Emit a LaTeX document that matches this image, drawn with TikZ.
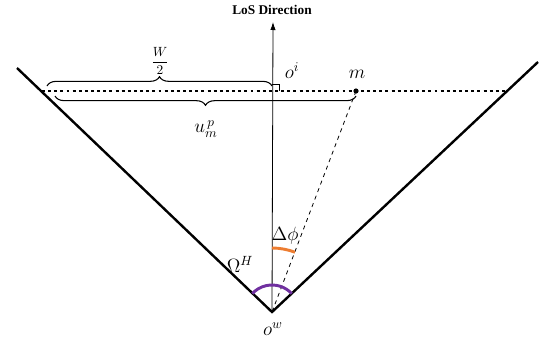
\documentclass[tikz,border=0pt]{standalone}
\usepackage{fontspec}
\newfontfamily\losfont{Liberation Serif}
\usetikzlibrary{arrows.meta,decorations.pathreplacing}
\definecolor{arcpurple}{HTML}{7030A0}
\definecolor{arcorange}{HTML}{ED7D31}
\begin{document}
\begin{tikzpicture}[x=0.75pt,y=0.75pt,
  fov/.style={line width=1.8pt},
  brc/.style={decorate,decoration={brace,amplitude=7pt},thick},
  lbl/.style={font=\Large}]
  \useasboundingbox (0,0) rectangle (548,344);
  \coordinate (ow) at (272,32);
  \coordinate (lt) at (17,276);
  \coordinate (rt) at (538,282);
  \coordinate (oi) at (272,253);
  \coordinate (m) at (356,253);
  \coordinate (pl) at (42,253);
  \coordinate (pr) at (507,253);
  \coordinate (tip) at (273,322);
  \draw[fov] (lt) -- (ow) -- (rt);
  \draw[semithick,-{Latex[length=6pt,width=4pt]}] (ow) -- (tip);
  \draw[line width=2.2pt,dash pattern=on 2.2pt off 2.4pt] (pl) -- (pr);
  \draw[semithick] ([shift={(0,7)}]oi) -- ++(7,0) -- ++(0,-7);
  \draw[dashed,semithick] (m) -- (ow);
  \fill (m) circle (2.6);
  \coordinate (ba) at (47,258);
  \coordinate (bb) at (272,258);
  \coordinate (bc) at (356,248);
  \coordinate (bd) at (55,248);
  \draw[brc] (ba) -- (bb);
  \draw[brc] (bc) -- (bd);
  \draw[arcpurple,line width=2.2pt]
    ([shift={(43:27)}]ow) arc[start angle=43,end angle=137,radius=27];
  \draw[arcorange,line width=2.2pt]
    ([shift={(69:64)}]ow) arc[start angle=69,end angle=90,radius=64];
  \node (los) at (272,334) {\losfont\bfseries LoS Direction};
  \node (half) at (160,283) {$\displaystyle\frac{W}{2}$};
  \node[lbl] (ump) at (206,215) {$u_{m}^{\,p}$};
  \node[lbl] (oilbl) at (292,273) {$o^i$};
  \node[lbl] (mlbl) at (357,270) {$m$};
  \node[lbl] (dphi) at (285,108) {$\Delta\phi$};
  \node[lbl] (omega) at (240,80) {$\Omega^H$};
  \node[lbl] (owlbl) at (273,15) {$o^w$};
\end{tikzpicture}
\end{document}
